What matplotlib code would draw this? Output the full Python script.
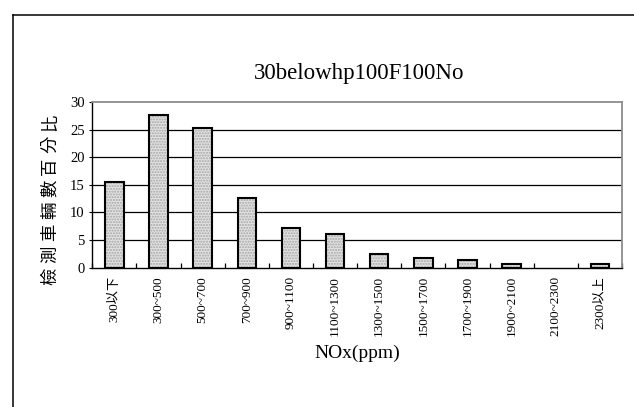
import matplotlib
matplotlib.use("Agg")
import matplotlib.pyplot as plt
import numpy as np
from matplotlib.lines import Line2D

categories = ["300以下", "300~500", "500~700", "700~900", "900~1100", "1100~1300",
              "1300~1500", "1500~1700", "1700~1900", "1900~2100", "2100~2300", "2300以上"]
percent = [15.6, 27.7, 25.3, 12.6, 7.1, 6.1, 2.5, 1.8, 1.4, 0.7, 0.0, 0.7]
y_ticks = [0, 5, 10, 15, 20, 25, 30]

title = "30belowhp100F100No"
x_label = "NOx(ppm)"
y_label = "檢測車輛數百分比"

serif = ["Liberation Serif", "Noto Sans CJK TC", "DejaVu Serif"]
cjk = ["Noto Sans CJK TC", "DejaVu Sans"]

fig = plt.figure(figsize=(6.34, 4.07), dpi=100)
W, H = 634, 407
ax = fig.add_axes([92.3 / W, 1 - 267.7 / H, (622 - 92.3) / W, (267.7 - 102) / H])

x = np.arange(len(categories))
edge_w = [1.5 if v > 0 else 0 for v in percent]
ax.bar(x, percent, width=0.42, facecolor="#e2e2e2", edgecolor="#a5a5a5",
       hatch="......", linewidth=0, zorder=3)
ax.bar(x, percent, width=0.42, fill=False, edgecolor="black", linewidth=edge_w, zorder=4)

ax.set_xlim(-0.5, len(categories) - 0.5)
ax.set_ylim(0, 30)
ax.set_yticks(y_ticks)
ax.set_yticklabels([str(v) for v in y_ticks], fontfamily=serif, fontsize=10.5)
ax.tick_params(axis="y", direction="out", length=2.5, width=0.8, pad=3)

ax.set_xticks(x)
ax.set_xticklabels(categories, rotation=90, fontsize=9.5, va="top")
for lbl in ax.get_xticklabels():
    lbl.set_fontfamily(serif)
ax.tick_params(axis="x", which="major", length=0, pad=6)
ax.set_xticks(np.arange(len(categories) + 1) - 0.5, minor=True)
ax.tick_params(axis="x", which="minor", direction="in", length=3.5, width=0.9)

for v in y_ticks[1:-1]:
    ax.axhline(v, color="black", linewidth=0.9, zorder=1)

ax.spines["left"].set_color("black")
ax.spines["bottom"].set_color("black")
ax.spines["left"].set_linewidth(1.0)
ax.spines["bottom"].set_linewidth(1.0)
ax.spines["top"].set_color("#8c8c8c")
ax.spines["right"].set_color("#8c8c8c")
ax.spines["top"].set_linewidth(1.3)
ax.spines["right"].set_linewidth(1.3)

fig.text(359 / W, 1 - 73 / H, title, ha="center", va="center",
         fontfamily=serif, fontsize=16.5)
fig.text(357 / W, 1 - 353 / H, x_label, ha="center", va="center",
         fontfamily=serif, fontsize=14)

# vertical axis title, one glyph per step, reading bottom to top
step = 22.0
center_y = 199.5
n = len(y_label)
for i, ch in enumerate(y_label):
    py = center_y + (n - 1) / 2 * step - i * step
    fig.text(50 / W, 1 - py / H, ch, ha="center", va="center", rotation=90,
             fontfamily=cjk, fontsize=12.5, fontweight="medium")

# chart frame (top and left edges)
fig.add_artist(Line2D([12.5 / W, 12.5 / W], [0, 1 - 14.5 / H], transform=fig.transFigure,
                      color="black", linewidth=1.1))
fig.add_artist(Line2D([12.5 / W, 1.0], [1 - 14.5 / H, 1 - 14.5 / H], transform=fig.transFigure,
                      color="black", linewidth=1.1))

fig.savefig("out.png", dpi=100)
